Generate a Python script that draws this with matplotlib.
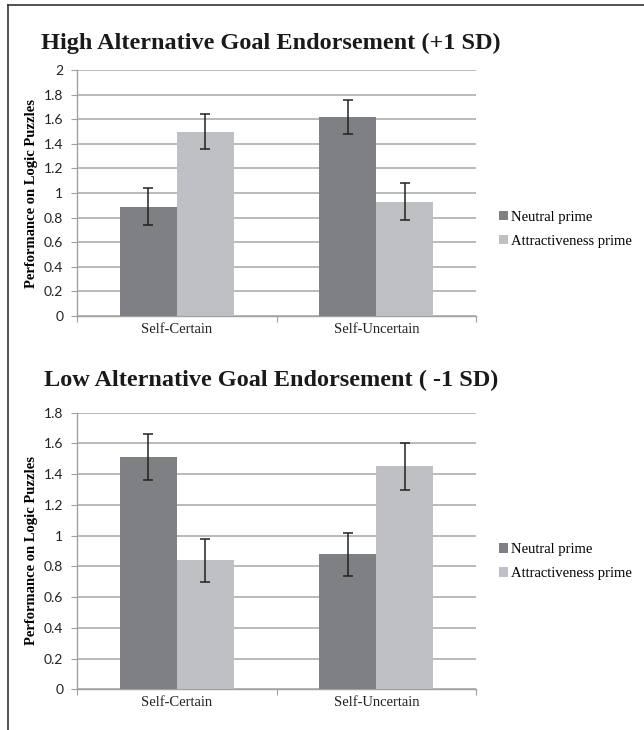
import numpy as np
import matplotlib
matplotlib.use("Agg")
import matplotlib.pyplot as plt
from matplotlib.lines import Line2D

categories = ["Self-Certain", "Self-Uncertain"]
series = ["Neutral prime", "Attractiveness prime"]

high_neutral = [0.89, 1.62]
high_attract = [1.50, 0.93]
high_neutral_err = [0.15, 0.14]
high_attract_err = [0.14, 0.15]

low_neutral = [1.51, 0.88]
low_attract = [0.84, 1.45]
low_neutral_err = [0.15, 0.14]
low_attract_err = [0.14, 0.15]

titles = ["High Alternative Goal Endorsement (+1 SD)",
          "Low Alternative Goal Endorsement ( -1 SD)"]
ylabel = "Performance on Logic Puzzles"

dark = "#7f8084"
light = "#bfc0c4"
grid_col = "#b4b4b4"

fig = plt.figure(figsize=(6.44, 7.30), dpi=100)

# border lines of the original box
fig.add_artist(Line2D([0.012, 0.012], [0, 0.993], color="#333333", lw=1.2))
fig.add_artist(Line2D([0.012, 1.0], [0.993, 0.993], color="#333333", lw=1.2))


def draw(ax, neutral, attract, nerr, aerr, ymax, title, title_y, leg_y):
    x = np.arange(len(categories))
    w = 0.286
    ax.bar(x - w / 2, neutral, w, color=dark, yerr=nerr, zorder=3,
           error_kw=dict(ecolor="#222222", elinewidth=1.1, capsize=3.5, capthick=1.1),
           label=series[0])
    ax.bar(x + w / 2, attract, w, color=light, yerr=aerr, zorder=3,
           error_kw=dict(ecolor="#222222", elinewidth=1.1, capsize=3.5, capthick=1.1),
           label=series[1])
    ax.set_xlim(-0.5, 1.5)
    ax.set_ylim(0, ymax)
    ticks = np.round(np.arange(0, ymax + 0.001, 0.2), 1)
    ax.set_yticks(ticks)
    ax.set_yticklabels(["%g" % t for t in ticks], fontfamily="Lato", fontsize=10, color="#222222")
    ax.yaxis.grid(True, color=grid_col, lw=1.3, zorder=0)
    ax.set_axisbelow(True)
    for s in ["top", "right"]:
        ax.spines[s].set_visible(False)
    ax.spines["left"].set_color("#a0a0a0")
    ax.spines["bottom"].set_color("#a0a0a0")
    ax.spines["left"].set_linewidth(1.0)
    ax.spines["bottom"].set_linewidth(1.0)
    ax.set_xticks([-0.5, 0.5, 1.5])
    ax.set_xticklabels([])
    ax.set_xticks(x, minor=True)
    ax.set_xticklabels(categories, minor=True, fontfamily="Liberation Serif", fontsize=10.5, color="#222222")
    ax.tick_params(axis="x", which="major", length=4, color="#a0a0a0")
    ax.tick_params(axis="x", which="minor", length=0, pad=5)
    ax.tick_params(axis="y", length=4, color="#a0a0a0", pad=6)
    ax.set_ylabel(ylabel, fontfamily="Liberation Serif", fontweight="bold", fontsize=10.5, labelpad=4)
    fig.text(0.421, title_y, title, ha="center", va="center",
             fontfamily="Liberation Serif", fontweight="bold", fontsize=17.5, color="#1a1a1a")
    fig.legend(handles=ax.get_legend_handles_labels()[0], labels=series,
               loc="upper left", bbox_to_anchor=(0.755, leg_y), frameon=False,
               prop=dict(family="Liberation Serif", size=10.5),
               handlelength=0.6, handleheight=0.6, handletextpad=0.2, labelspacing=0.75)


ax1 = fig.add_axes([0.1196, 0.5671, 0.6196, 0.337])
draw(ax1, high_neutral, high_attract, high_neutral_err, high_attract_err, 2.0,
     titles[0], 0.941, 0.729)

ax2 = fig.add_axes([0.1196, 0.0558, 0.6196, 0.3789])
draw(ax2, low_neutral, low_attract, low_neutral_err, low_attract_err, 1.8,
     titles[1], 0.479, 0.274)

fig.savefig("out.png", dpi=100)
